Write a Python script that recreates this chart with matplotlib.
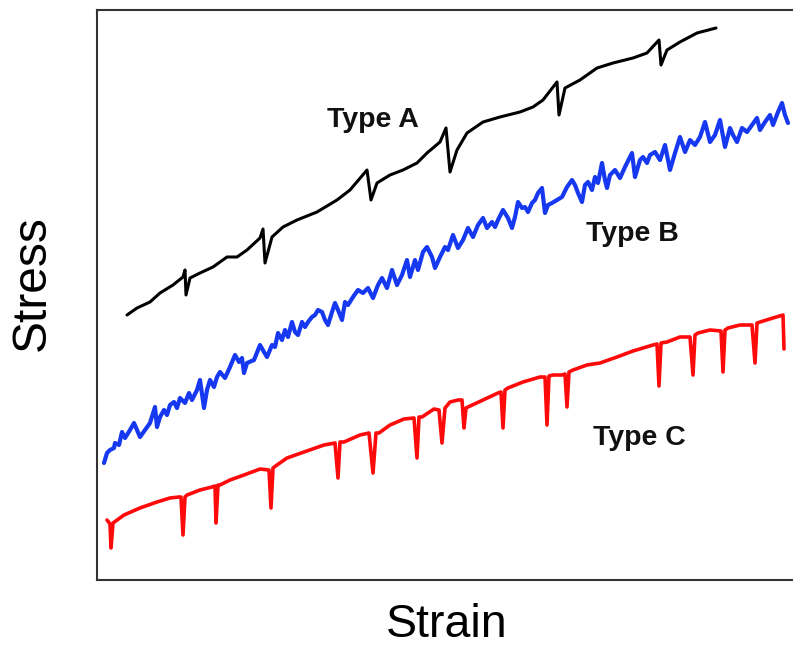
import matplotlib
matplotlib.use("Agg")
import matplotlib.pyplot as plt

plt.rcParams['font.family'] = ['Liberation Sans', 'DejaVu Sans']

# Type A (black)
strain_a = [127, 137, 150, 160, 173, 183, 185, 186, 190, 200, 213, 227, 237, 247, 260, 263, 265,
            272, 283, 297, 317, 337, 350, 367, 371, 377, 390, 403, 417, 427, 440, 446, 450,
            457, 467, 483, 500, 520, 533, 543, 557, 559, 565, 580, 597, 613, 633, 647, 659, 661,
            667, 680, 697, 716]
stress_a = [265, 272, 278, 287, 295, 303, 310, 285, 302, 307, 313, 323, 323, 330, 342, 351, 317,
            343, 353, 360, 368, 380, 390, 410, 380, 397, 405, 410, 417, 427, 438, 452, 408,
            430, 447, 458, 463, 468, 473, 480, 498, 465, 492, 500, 512, 517, 522, 527, 540, 515,
            530, 538, 547, 552]

# Type B (blue)
strain_b = [104, 107, 110, 114, 115, 119, 122, 125, 130, 134, 137, 140, 145, 150, 155, 157, 160,
            164, 167, 170, 174, 177, 180, 185, 189, 192, 197, 200, 204, 207, 210, 214, 217, 220,
            225, 230, 235, 239, 242, 244, 247, 254, 260, 264, 267, 272, 275, 278, 282, 285, 288,
            292, 295, 298, 302, 305, 308, 312, 315, 318, 322, 325, 328, 332, 335, 338, 342, 345,
            348, 353, 358, 363, 368, 373, 378, 382, 387, 392, 397, 402, 407, 410, 415, 418, 423,
            427, 432, 435, 440, 445, 448, 453, 458, 463, 468, 473, 478, 483, 487, 492, 495, 498,
            503, 508, 512, 515, 518, 522, 525, 528, 532, 535, 538, 542, 545, 548, 552, 557, 562,
            567, 572, 575, 578, 582, 585, 588, 592, 595, 598, 602, 605, 607, 610, 615, 620, 625,
            632, 635, 640, 643, 647, 650, 655, 660, 665, 670, 675, 680, 685, 690, 695, 700, 705,
            710, 715, 720, 725, 730, 733, 737, 742, 747, 752, 757, 760, 765, 770, 773, 778, 782,
            785, 788]
stress_b = [117, 127, 130, 132, 137, 135, 148, 142, 150, 157, 150, 143, 150, 157, 173, 153, 163,
            170, 165, 175, 178, 172, 182, 177, 187, 180, 190, 200, 172, 190, 200, 193, 203, 208,
            202, 213, 225, 218, 222, 207, 217, 220, 235, 228, 223, 235, 233, 247, 240, 250, 243,
            258, 248, 245, 258, 253, 258, 263, 265, 270, 268, 260, 255, 268, 277, 270, 260, 278,
            275, 283, 290, 287, 292, 282, 295, 302, 292, 310, 295, 305, 320, 303, 320, 310, 328,
            333, 323, 312, 323, 333, 330, 345, 332, 340, 352, 343, 355, 362, 352, 358, 353, 360,
            370, 362, 352, 363, 378, 372, 373, 368, 377, 380, 387, 392, 367, 375, 377, 380, 383,
            393, 400, 395, 387, 378, 395, 398, 390, 403, 397, 417, 400, 392, 405, 410, 402, 413,
            427, 403, 420, 423, 417, 425, 428, 420, 435, 410, 427, 443, 428, 440, 435, 443, 458,
            438, 445, 460, 433, 452, 445, 438, 452, 448, 455, 462, 450, 458, 465, 455, 468, 477,
            465, 457]

# Type C (red)
strain_c = [107, 110, 111, 113, 124, 140, 157, 170, 179, 181, 183, 185, 187, 200, 212, 215, 216,
            218, 220, 230, 244, 260, 269, 271, 273, 277, 287, 304, 324, 335, 338, 340, 344, 360,
            369, 373, 376, 379, 390, 404, 414, 417, 419, 422, 434, 439, 442, 445, 450, 458, 462,
            464, 466, 468, 483, 498, 501, 503, 505, 508, 523, 540, 545, 547, 549, 553, 562, 565,
            567, 569, 573, 587, 600, 617, 633, 653, 657, 659, 661, 667, 680, 690, 693, 695, 698,
            710, 721, 723, 725, 728, 740, 752, 755, 757, 760, 773, 783, 784]
stress_c = [60, 56, 32, 57, 65, 72, 78, 82, 83, 83, 45, 83, 85, 90, 93, 94, 57,
            95, 95, 100, 105, 111, 110, 72, 112, 115, 122, 128, 135, 137, 102, 138, 138, 145,
            147, 107, 147, 147, 155, 161, 162, 122, 163, 163, 171, 170, 137, 172, 178, 180, 180,
            152, 172, 173, 180, 187, 188, 152, 190, 192, 198, 203, 203, 155, 204, 205, 205, 206,
            173, 208, 210, 215, 217, 223, 229, 235, 236, 194, 237, 238, 243, 243, 205, 245, 247,
            250, 249, 208, 250, 252, 255, 255, 217, 257, 258, 262, 265, 231]

labels = ["Type A", "Type B", "Type C"]
label_pos_x = [373, 632, 639]
label_pos_y = [460, 346, 142]

fig = plt.figure(figsize=(7.93, 6.48), dpi=100)
ax = fig.add_axes([97 / 793, 68 / 648, 696 / 793, 570 / 648])

ax.plot(strain_a, stress_a, color='black', lw=2.2, solid_joinstyle='round', solid_capstyle='round')
ax.plot(strain_b, stress_b, color='#1538f0', lw=3.0, solid_joinstyle='round', solid_capstyle='round')
ax.plot(strain_c, stress_c, color='#ff0a0a', lw=2.6, solid_joinstyle='round', solid_capstyle='round')

for t, x, y in zip(labels, label_pos_x, label_pos_y):
    ax.text(x, y, t, ha='center', va='center', fontsize=20.5, fontweight='bold', color='#111111')

ax.set_xlim(97, 793)
ax.set_ylim(0, 570)
ax.set_xticks([])
ax.set_yticks([])
ax.spines['right'].set_visible(False)
for s in ['left', 'top', 'bottom']:
    ax.spines[s].set_linewidth(1.5)
    ax.spines[s].set_color('#333333')

fig.text(447 / 793, 1 - 625 / 648, "Strain", ha='center', va='center', fontsize=33.5)
fig.text(32 / 793, 1 - 283 / 648, "Stress", ha='center', va='center', fontsize=34.5, rotation=90)

fig.savefig("out.png", dpi=100)
